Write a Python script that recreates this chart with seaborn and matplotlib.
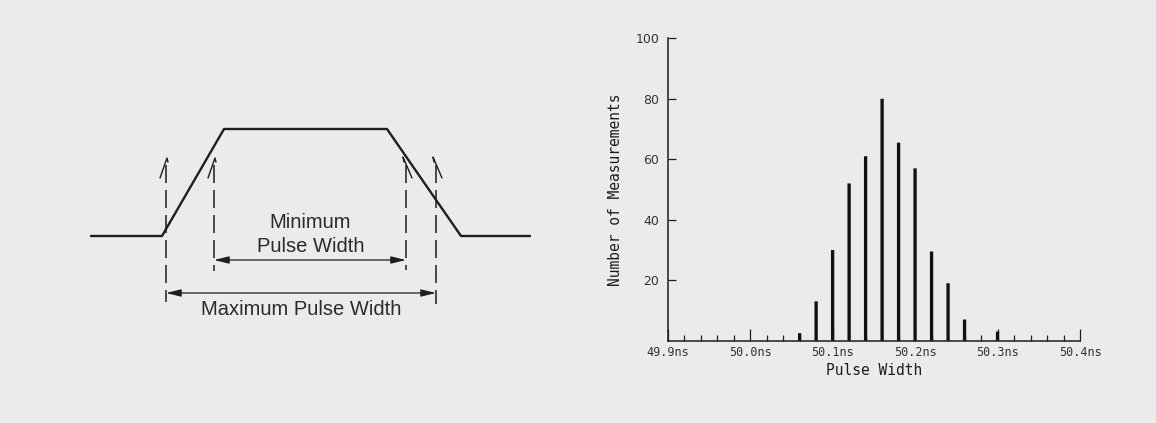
import matplotlib
matplotlib.use("Agg")
import matplotlib.pyplot as plt
import seaborn as sns
import numpy as np

# --- data -------------------------------------------------------------
# histogram of measured pulse widths (ns) and counts
pulse_width_ns = [50.06, 50.08, 50.10, 50.12, 50.14, 50.16, 50.18, 50.20, 50.22, 50.24, 50.26, 50.30]
counts = [2.5, 13, 30, 52, 61, 80, 65.5, 57, 29.5, 19, 7, 3]
x_major = [49.9, 50.0, 50.1, 50.2, 50.3, 50.4]
x_labels = ["49.9ns", "50.0ns", "50.1ns", "50.2ns", "50.3ns", "50.4ns"]
y_ticks = [20, 40, 60, 80, 100]

# pulse diagram (drawn in pixel-like units of the left panel)
wave_x = [91, 162, 224, 387, 461, 530]
wave_y = [236, 236, 129, 129, 236, 236]
dash_x = [166, 214, 406, 436]
dash_bottom = [302, 271, 270, 304]
min_arrow = (214, 406, 260)
max_arrow = (166, 436, 293)

INK = "#1e1e1e"
BG = "#ebebeb"

sns.set_theme(style="white")
plt.rcParams["font.family"] = ["DejaVu Sans"]

fig = plt.figure(figsize=(11.56, 4.23), dpi=100, facecolor=BG)

# --- left: pulse width definition sketch -------------------------------
axl = fig.add_axes([0, 0, 578 / 1156, 1])
axl.set_xlim(0, 578)
axl.set_ylim(423, 0)
axl.axis("off")

sns.lineplot(x=wave_x, y=wave_y, sort=False, estimator=None, color=INK,
             linewidth=1.7, ax=axl)

lw_d = 1.1
for i, (xd, yb) in enumerate(zip(dash_x, dash_bottom)):
    axl.plot([xd, xd], [165, yb], color=INK, linewidth=lw_d,
             linestyle=(0, (13 / lw_d, 5 / lw_d)))
    # little slope marks at the top of each dashed line
    if i < 2:
        axl.plot([xd - 6, xd + 1, xd + 2], [178, 158, 162], color=INK, linewidth=1.0)
    else:
        axl.plot([xd - 2, xd - 3, xd + 6], [162, 157, 178], color=INK, linewidth=1.0)

for x0, x1, y in (min_arrow, max_arrow):
    axl.annotate("", xy=(x0, y), xytext=(x1, y),
                 arrowprops=dict(arrowstyle="<|-|>,head_length=0.9,head_width=0.22",
                                 mutation_scale=10, color=INK, lw=0.9,
                                 shrinkA=0, shrinkB=0))

txt = dict(family=["Liberation Sans", "DejaVu Sans"], fontsize=14.5, color="#2a2a2a",
           ha="center", va="baseline")
axl.text(310, 227.5, "Minimum", **txt)
axl.text(311, 251.5, "Pulse Width", **txt)
axl.text(301, 315, "Maximum Pulse Width", **txt)

# --- right: histogram --------------------------------------------------
ax = fig.add_axes([667.7 / 1156, 1 - 340.7 / 423, 412.3 / 1156, 302.4 / 423])
ax.set_facecolor("none")
sns.barplot(x=pulse_width_ns, y=counts, native_scale=True, width=0.2,
            color="#111111", saturation=1, linewidth=0, ax=ax)
for p in ax.patches:
    p.set_snap(False)  # keep all bars the same width

ax.set_xlim(49.9, 50.4)
ax.set_ylim(0, 100)
for s in ["top", "right"]:
    ax.spines[s].set_visible(False)
for s in ["left", "bottom"]:
    ax.spines[s].set_color(INK)
    ax.spines[s].set_linewidth(1.1)

mono = ["DejaVu Sans Mono"]
ax.set_xticks(x_major)
ax.set_xticklabels(x_labels, family=mono, fontsize=8.5, color="#333333")
ax.set_xticks(np.arange(49.92, 50.39, 0.02), minor=True)
ax.tick_params(axis="x", which="major", direction="in", length=8.4, width=0.9,
               color=INK, pad=4, bottom=True)
ax.tick_params(axis="x", which="minor", direction="in", length=4, width=0.9,
               color=INK, bottom=True)
ax.set_yticks(y_ticks)
ax.set_yticklabels([str(v) for v in y_ticks], fontsize=9, color="#333333")
ax.tick_params(axis="y", direction="in", length=6, width=0.9, color=INK,
               pad=6, left=True)

ax.set_xlabel("Pulse Width", family=mono, fontsize=10.5, color=INK)
ax.xaxis.set_label_coords(0.5, -0.075)
ax.set_ylabel("Number of Measurements", family=mono, fontsize=10.5, color=INK)
ax.yaxis.set_label_coords(-0.108, 0.5)
ax.grid(False)

fig.savefig("out.png", dpi=100, facecolor=BG)
